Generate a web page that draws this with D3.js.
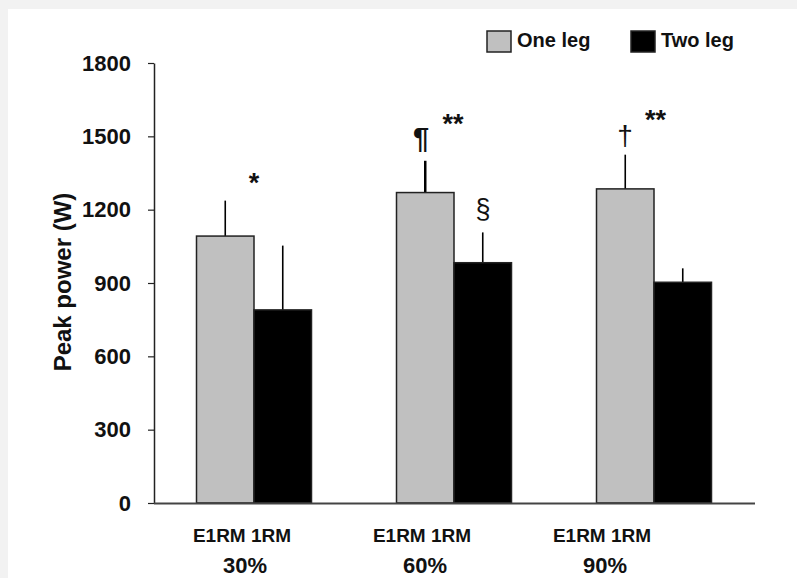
<!DOCTYPE html>
<html>
<head>
<meta charset="utf-8">
<script src="https://cdn.jsdelivr.net/npm/d3@7"></script>
<style>
  body { margin: 0; padding: 0; background: #f2f2f2; }
  svg { display: block; font-family: "Liberation Sans", Arial, sans-serif; }
</style>
</head>
<body>
<div id="chart-area"></div>
<script>
// data
let groups = ["30%", "60%", "90%"];
let series = ["One leg", "Two leg"];
let oneLeg = [1092, 1270, 1285];
let oneLegSD = [145, 130, 140];
let twoLeg = [790, 983, 903];
let twoLegSD = [263, 124, 57];
let yTicks = [0, 300, 600, 900, 1200, 1500, 1800];
let marks = [
	{ group: "30%", dx: 0, dy: 192, text: "*", size: 27, weight: "bold" },
	{ group: "60%", dx: -33, dy: 148, text: "¶", size: 29, weight: "bold" },
	{ group: "60%", dx: -1, dy: 133, text: "**", size: 27, weight: "bold" },
	{ group: "60%", dx: 29, dy: 218, text: "§", size: 27, weight: "normal" },
	{ group: "90%", dx: -29, dy: 145, text: "†", size: 28, weight: "normal" },
	{ group: "90%", dx: 1.5, dy: 128.6, text: "**", size: 27, weight: "bold" }
];

let W = 797, H = 578;
let margin = { left: 154, top: 63, right: 43, bottom: 75 };
let x0 = margin.left, yBase = 503;

let svg = d3.select("#chart-area")
	.append("svg")
	.attr("width", W)
	.attr("height", H);

svg.append("rect")
	.attr("width", W).attr("height", H)
	.attr("fill", "#f2f2f2");
svg.append("rect")
	.attr("x", 8).attr("y", 9)
	.attr("width", W - 8).attr("height", H - 9)
	.attr("fill", "#ffffff");

let yScale = d3.scaleLinear()
	.domain([0, 1800])
	.range([yBase, margin.top]);

let xScale = d3.scaleBand()
	.domain(groups)
	.range([x0, x0 + 600])
	.paddingInner(0.425)
	.paddingOuter(0.2125);

let x1 = d3.scaleBand()
	.domain(series)
	.range([0, xScale.bandwidth()]);

let color = d3.scaleOrdinal()
	.domain(series)
	.range(["#c0c0c0", "#000000"]);

// y axis
let yAxisCall = d3.axisLeft(yScale)
	.tickValues(yTicks)
	.tickFormat(d3.format("d"))
	.tickSize(6)
	.tickPadding(17)
	.tickSizeOuter(0);

let yAxis = svg.append("g")
	.attr("transform", `translate(${x0}, 0)`)
	.call(yAxisCall);
yAxis.select(".domain").attr("stroke", "#222").attr("stroke-width", 1.5);
yAxis.selectAll(".tick line").attr("stroke", "#222").attr("stroke-width", 1.2);
yAxis.selectAll(".tick text")
	.attr("font-size", "22px")
	.attr("font-weight", "bold")
	.attr("font-family", "Liberation Sans, Arial, sans-serif")
	.attr("fill", "#111");

svg.append("text")
	.attr("transform", "translate(71, 282) rotate(-90)")
	.attr("text-anchor", "middle")
	.attr("font-size", "24px")
	.attr("font-weight", "bold")
	.attr("fill", "#111")
	.text("Peak power (W)");

// bars
let rows = [];
groups.forEach(function(g, i){
	rows.push({ group: g, key: "One leg", value: oneLeg[i], sd: oneLegSD[i] });
	rows.push({ group: g, key: "Two leg", value: twoLeg[i], sd: twoLegSD[i] });
});

let bars = svg.append("g");

bars.selectAll("line.err")
	.data(rows)
	.enter().append("line")
	.attr("class", "err")
	.attr("x1", d => xScale(d.group) + x1(d.key) + x1.bandwidth() / 2)
	.attr("x2", d => xScale(d.group) + x1(d.key) + x1.bandwidth() / 2)
	.attr("y1", d => yScale(d.value))
	.attr("y2", d => yScale(d.value + d.sd))
	.attr("stroke", "#000")
	.attr("stroke-width", d => (d.group === "60%" && d.key === "One leg") ? 2.5 : 1.6);

bars.selectAll("rect.bar")
	.data(rows)
	.enter().append("rect")
	.attr("class", "bar")
	.attr("x", d => xScale(d.group) + x1(d.key))
	.attr("y", d => yScale(d.value))
	.attr("width", x1.bandwidth())
	.attr("height", d => yBase - yScale(d.value))
	.attr("fill", d => color(d.key))
	.attr("stroke", "#222")
	.attr("stroke-width", 1.5);

// baseline
svg.append("line")
	.attr("x1", x0).attr("x2", 755)
	.attr("y1", yBase + 0.5).attr("y2", yBase + 0.5)
	.attr("stroke", "#444")
	.attr("stroke-width", 2);

// significance marks
svg.selectAll("text.mark")
	.data(marks)
	.enter().append("text")
	.attr("class", "mark")
	.attr("x", d => xScale(d.group) + xScale.bandwidth() / 2 + d.dx)
	.attr("y", d => d.dy)
	.attr("text-anchor", "middle")
	.attr("font-size", d => d.size + "px")
	.attr("font-weight", d => d.weight)
	.attr("fill", "#111")
	.text(d => d.text);

// category labels
let xLabels = svg.append("g");
groups.forEach(function(g, i){
	let cx = xScale(g) + xScale.bandwidth() / 2 - 12 - i * 20;
	xLabels.append("text")
		.attr("x", cx)
		.attr("y", 542)
		.attr("text-anchor", "middle")
		.attr("font-size", "19px")
		.attr("font-weight", "bold")
		.attr("fill", "#111")
		.text("E1RM 1RM");
	xLabels.append("text")
		.attr("x", cx + 3)
		.attr("y", 573)
		.attr("text-anchor", "middle")
		.attr("font-size", "22px")
		.attr("font-weight", "bold")
		.attr("fill", "#111")
		.text(g);
});

// legend
let legend = svg.append("g")
	.attr("transform", "translate(487, 31)");

series.forEach(function(s, i){
	let row = legend.append("g")
		.attr("transform", `translate(${i * 144}, 0)`);
	row.append("rect")
		.attr("width", 24)
		.attr("height", 21)
		.attr("fill", color(s))
		.attr("stroke", "#222")
		.attr("stroke-width", 1.5);
	row.append("text")
		.attr("x", 30)
		.attr("y", 16)
		.attr("font-size", "20px")
		.attr("font-weight", "bold")
		.attr("fill", "#111")
		.text(s);
});
</script>
</body>
</html>
